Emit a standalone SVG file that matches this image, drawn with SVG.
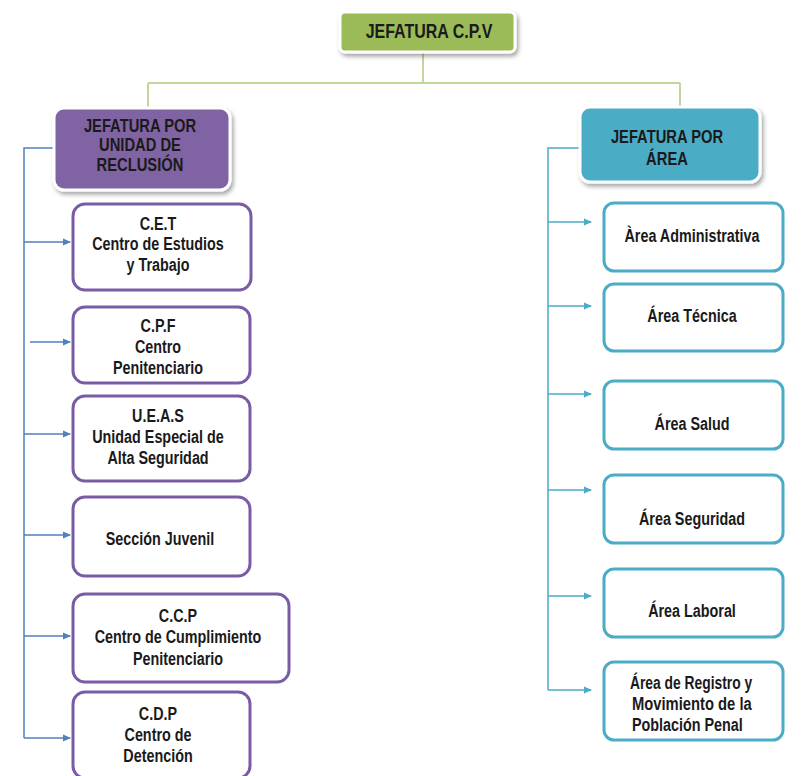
<svg xmlns="http://www.w3.org/2000/svg" width="806" height="776" viewBox="0 0 806 776">
<style>
text{font-family:"Liberation Sans",Arial,sans-serif;font-weight:bold;font-size:17.5px;fill:#1a1a1a;text-anchor:middle}
.t{font-size:19.5px}
.h{font-size:18px}
.s{text-anchor:start}
.pbox{fill:#fff;stroke:#7a5ca5;stroke-width:3}
.bbox{fill:#fff;stroke:#4bacc6;stroke-width:3}
.lc{stroke:#4f81bd;stroke-width:1.5;fill:none}
.rc{stroke:#4bacc6;stroke-width:1.5;fill:none}
.gc{stroke:#c3d69b;stroke-width:2;fill:none}
</style>
<defs>
<filter id="sh" x="-10%" y="-10%" width="130%" height="140%">
<feDropShadow dx="2" dy="3" stdDeviation="2" flood-color="#000" flood-opacity="0.35"/>
</filter>
<marker id="al" markerWidth="8" markerHeight="8" refX="7" refY="4" orient="auto" markerUnits="userSpaceOnUse"><path d="M0,0.5 L8,4 L0,7.5z" fill="#4f81bd"/></marker>
<marker id="ar" markerWidth="8" markerHeight="8" refX="7" refY="4" orient="auto" markerUnits="userSpaceOnUse"><path d="M0,0.5 L8,4 L0,7.5z" fill="#4bacc6"/></marker>
</defs>
<g id="connectors">
<path class="gc" d="M423,52 V83 M148,83 H680 M148,83 V108 M680,83 V107"/>
<path class="lc" d="M53,148 H24 V738"/>
<path class="lc" marker-end="url(#al)" d="M24,242 H70"/>
<path class="lc" marker-end="url(#al)" d="M30,342 H70"/>
<path class="lc" marker-end="url(#al)" d="M24,434 H70"/>
<path class="lc" marker-end="url(#al)" d="M24,535 H70"/>
<path class="lc" marker-end="url(#al)" d="M24,636 H70"/>
<path class="lc" marker-end="url(#al)" d="M24,738 H70"/>
<path class="rc" d="M580,148 H548 V690"/>
<path class="rc" marker-end="url(#ar)" d="M548,222 H591"/>
<path class="rc" marker-end="url(#ar)" d="M548,306 H591"/>
<path class="rc" marker-end="url(#ar)" d="M548,394 H591"/>
<path class="rc" marker-end="url(#ar)" d="M548,490 H591"/>
<path class="rc" marker-end="url(#ar)" d="M548,596 H591"/>
<path class="rc" marker-end="url(#ar)" d="M548,690 H591"/>
</g>
<g id="jefatura-cpv">
<rect x="340" y="12" width="175" height="40" rx="5" fill="#9bbb59" stroke="#fff" stroke-width="3" filter="url(#sh)"/>
<text class="t" transform="translate(429,0) scale(0.82,1)" x="0" y="38">JEFATURA C.P.V</text>
</g>
<g id="jefatura-unidad">
<rect x="54" y="108" width="176" height="82" rx="10" fill="#8064a2" stroke="#fff" stroke-width="3" filter="url(#sh)"/>
<text class="h" transform="translate(140,0) scale(0.82,1)" x="0" y="132">JEFATURA POR</text>
<text class="h" transform="translate(140,0) scale(0.82,1)" x="0" y="151">UNIDAD DE</text>
<text class="h" transform="translate(140,0) scale(0.82,1)" x="0" y="171">RECLUSIÓN</text>
</g>
<g id="jefatura-area">
<rect x="580" y="107" width="180" height="75" rx="10" fill="#4bacc6" stroke="#fff" stroke-width="3" filter="url(#sh)"/>
<text class="h" transform="translate(667,0) scale(0.82,1)" x="0" y="143">JEFATURA POR</text>
<text class="h" transform="translate(667,0) scale(0.82,1)" x="0" y="165">ÁREA</text>
</g>
<g id="cet">
<rect class="pbox" x="73" y="204" width="178" height="86" rx="12"/>
<text transform="translate(158,0) scale(0.82,1)" x="0" y="230">C.E.T</text>
<text transform="translate(158,0) scale(0.82,1)" x="0" y="250">Centro de Estudios</text>
<text transform="translate(158,0) scale(0.82,1)" x="0" y="271">y Trabajo</text>
</g>
<g id="cpf">
<rect class="pbox" x="73" y="307" width="177" height="76" rx="12"/>
<text transform="translate(158,0) scale(0.82,1)" x="0" y="332">C.P.F</text>
<text transform="translate(158,0) scale(0.82,1)" x="0" y="353">Centro</text>
<text transform="translate(158,0) scale(0.82,1)" x="0" y="374">Penitenciario</text>
</g>
<g id="ueas">
<rect class="pbox" x="73" y="396" width="177" height="85" rx="12"/>
<text transform="translate(158,0) scale(0.82,1)" x="0" y="422">U.E.A.S</text>
<text transform="translate(158,0) scale(0.82,1)" x="0" y="443">Unidad Especial de</text>
<text transform="translate(158,0) scale(0.82,1)" x="0" y="464">Alta Seguridad</text>
</g>
<g id="seccion-juvenil">
<rect class="pbox" x="73" y="497" width="177" height="79" rx="12"/>
<text transform="translate(160,0) scale(0.82,1)" x="0" y="545">Sección Juvenil</text>
</g>
<g id="ccp">
<rect class="pbox" x="73" y="594" width="216" height="88" rx="12"/>
<text transform="translate(178,0) scale(0.82,1)" x="0" y="622">C.C.P</text>
<text transform="translate(178,0) scale(0.82,1)" x="0" y="643">Centro de Cumplimiento</text>
<text transform="translate(178,0) scale(0.82,1)" x="0" y="665">Penitenciario</text>
</g>
<g id="cdp">
<rect class="pbox" x="73" y="692" width="177" height="86" rx="12"/>
<text transform="translate(158,0) scale(0.82,1)" x="0" y="720">C.D.P</text>
<text transform="translate(158,0) scale(0.82,1)" x="0" y="741">Centro de</text>
<text transform="translate(158,0) scale(0.82,1)" x="0" y="762">Detención</text>
</g>
<g id="area-administrativa">
<rect class="bbox" x="604" y="203" width="179" height="68" rx="10"/>
<text transform="translate(692,0) scale(0.82,1)" x="0" y="242">Àrea Administrativa</text>
</g>
<g id="area-tecnica">
<rect class="bbox" x="604" y="284" width="179" height="67" rx="10"/>
<text transform="translate(692,0) scale(0.82,1)" x="0" y="322">Área Técnica</text>
</g>
<g id="area-salud">
<rect class="bbox" x="604" y="381" width="179" height="68" rx="10"/>
<text transform="translate(692,0) scale(0.82,1)" x="0" y="430">Área Salud</text>
</g>
<g id="area-seguridad">
<rect class="bbox" x="604" y="475" width="179" height="68" rx="10"/>
<text transform="translate(692,0) scale(0.82,1)" x="0" y="525">Área Seguridad</text>
</g>
<g id="area-laboral">
<rect class="bbox" x="604" y="569" width="179" height="68" rx="10"/>
<text transform="translate(692,0) scale(0.82,1)" x="0" y="617">Área Laboral</text>
</g>
<g id="area-registro">
<rect class="bbox" x="604" y="662" width="179" height="78" rx="10"/>
<text class="s" transform="translate(630,0) scale(0.82,1)" x="0" y="689" textLength="149" lengthAdjust="spacingAndGlyphs">Área de Registro y</text>
<text class="s" transform="translate(632,0) scale(0.82,1)" x="0" y="710" textLength="146" lengthAdjust="spacingAndGlyphs">Movimiento  de  la</text>
<text class="s" transform="translate(632,0) scale(0.82,1)" x="0" y="731">Población Penal</text>
</g>
</svg>
